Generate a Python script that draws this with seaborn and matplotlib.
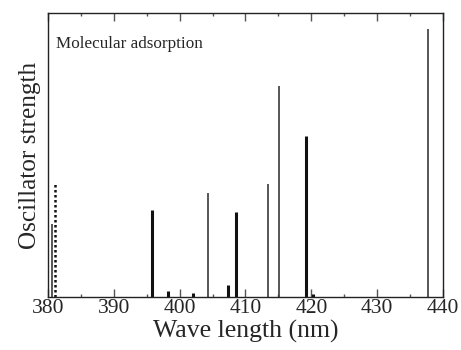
"""Oscillator strengths of the molecular adsorption lines (380-440 nm)."""
import numpy as np
import pandas as pd
import matplotlib
matplotlib.use("Agg")
import matplotlib.pyplot as plt
from matplotlib.ticker import MultipleLocator
import seaborn as sns

# ---- data (wavelength nm, oscillator strength in arb. units, full scale = 1) ----
wl_thick = [395.75, 398.3, 402.0, 407.35, 408.5, 419.2, 420.2]
f_thick = [0.306, 0.021, 0.014, 0.042, 0.300, 0.567, 0.011]
wl_thin = [380.56, 404.25, 413.4, 415.1, 437.7]
f_thin = [0.257, 0.366, 0.398, 0.743, 0.944]
wl_dotted = [381.1]
f_dotted = [0.398]

lines = pd.concat([
    pd.DataFrame({"wl": wl_thick, "f": f_thick, "kind": "thick"}),
    pd.DataFrame({"wl": wl_thin, "f": f_thin, "kind": "thin"}),
    pd.DataFrame({"wl": wl_dotted, "f": f_dotted, "kind": "dotted"}),
])

STYLE = {
    "thick": dict(color="#111111", linewidth=2.2, linestyle="-"),
    "thin": dict(color="#3a3a3a", linewidth=1.2, linestyle="-"),
    "dotted": dict(color="#111111", linewidth=1.8, linestyle=(0, (1, 1))),
}


def main():
    sns.set_style("ticks")
    plt.rcParams["font.family"] = ["Liberation Serif", "DejaVu Serif"]

    fig = plt.figure(figsize=(4.61, 3.5), dpi=100)
    ax = fig.add_axes([0.104, 0.151, 0.857, 0.812])

    for kind, d in lines.groupby("kind"):
        ax.vlines(d["wl"], 0, d["f"], capstyle="butt", **STYLE[kind])

    ax.set_xlim(380, 440)
    ax.set_ylim(0, 1)
    ax.xaxis.set_major_locator(MultipleLocator(10))
    ax.xaxis.set_minor_locator(MultipleLocator(5))
    ax.tick_params(axis="x", which="both", direction="in", top=True, bottom=True,
                   color="#555555", width=1, labelsize=15.5, pad=1)
    ax.tick_params(axis="x", which="major", length=6)
    ax.tick_params(axis="x", which="minor", length=2.5)
    ax.set_yticks([])
    for s in ax.spines.values():
        s.set_visible(True)
        s.set_color("#222222")
        s.set_linewidth(1.0)

    ax.set_xlabel("Wave length (nm)", fontsize=18.5, labelpad=1.5)
    ax.set_ylabel("Oscillator strength", fontsize=18.2, labelpad=5)
    ax.text(0.02, 0.89, "Molecular adsorption", transform=ax.transAxes,
            fontsize=12.3, va="center", ha="left")

    fig.savefig("out.png", dpi=100)
    plt.close(fig)


if __name__ == "__main__":
    main()
